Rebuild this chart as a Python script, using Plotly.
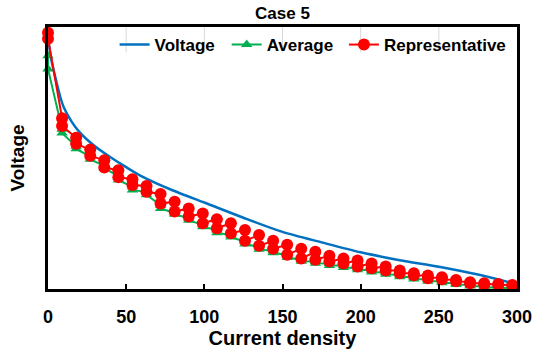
import plotly.graph_objects as go

# Current density grid for the measured series
x_meas = [0, 9, 18, 27, 36, 45, 54, 63, 72, 81, 90, 99, 108, 117, 126, 135, 144,
          153, 162, 171, 180, 189, 198, 207, 216, 225, 234, 243, 252, 261, 270,
          279, 288, 297]

rep_upper = [0.978, 0.652, 0.577, 0.532, 0.491, 0.453, 0.419, 0.393, 0.363, 0.333,
             0.307, 0.288, 0.266, 0.251, 0.225, 0.206, 0.184, 0.169, 0.154, 0.142,
             0.127, 0.116, 0.109, 0.097, 0.086, 0.071, 0.060, 0.052, 0.045, 0.034,
             0.026, 0.022, 0.019, 0.015]
rep_lower = [0.955, 0.622, 0.554, 0.509, 0.464, 0.427, 0.397, 0.371, 0.326, 0.296,
             0.277, 0.251, 0.232, 0.213, 0.184, 0.165, 0.154, 0.131, 0.116, 0.112,
             0.105, 0.097, 0.086, 0.079, 0.071, 0.060, 0.052, 0.041, 0.037, 0.030,
             0.022, 0.018, 0.015, 0.012]

avg_upper = [0.89, 0.61, 0.545, 0.505, 0.47, 0.43, 0.39, 0.37, 0.32, 0.29,
             0.27, 0.245, 0.225, 0.205, 0.18, 0.16, 0.145, 0.13, 0.112, 0.105,
             0.097, 0.09, 0.08, 0.072, 0.063, 0.053, 0.045, 0.036, 0.03, 0.022,
             0.015, 0.01, 0.007, 0.005]
avg_lower = [0.84, 0.595, 0.535, 0.495, 0.462, 0.416, 0.378, 0.36, 0.307, 0.285,
             0.262, 0.238, 0.215, 0.198, 0.172, 0.152, 0.138, 0.12, 0.106, 0.098,
             0.09, 0.082, 0.073, 0.065, 0.056, 0.047, 0.038, 0.03, 0.024, 0.017,
             0.011, 0.006, 0.003, 0.0]

# Smooth "Voltage" curve
x_volt = [0, 2, 5, 8, 10, 15, 20, 30, 40, 50, 60, 80, 100, 125, 150, 175, 200,
          225, 250, 275, 300]
volt = [0.96, 0.88, 0.80, 0.73, 0.695, 0.64, 0.60, 0.545, 0.503, 0.465, 0.43,
        0.376, 0.33, 0.272, 0.218, 0.178, 0.14, 0.11, 0.085, 0.055, 0.018]

x_ticks = [0, 50, 100, 150, 200, 250, 300]


def interleave(xs, a, b):
    xo, yo = [], []
    for xi, ai, bi in zip(xs, a, b):
        xo += [xi, xi]
        yo += [ai, bi]
    return xo, yo


FONT = "Arial, Liberation Sans, sans-serif"

xa, ya = interleave(x_meas, avg_upper, avg_lower)
xr, yr = interleave(x_meas, rep_upper, rep_lower)

fig = go.Figure()
fig.add_trace(go.Scatter(x=x_volt, y=volt, mode="lines", name="Voltage",
                         line=dict(color="#0070C0", width=2.5, shape="spline",
                                   smoothing=0.8),
                         cliponaxis=False, legend="legend"))
fig.add_trace(go.Scatter(x=xa, y=ya, mode="lines+markers", name="Average",
                         line=dict(color="#00B050", width=2),
                         marker=dict(symbol="triangle-up", size=10, color="#00B050"),
                         cliponaxis=False, legend="legend2"))
fig.add_trace(go.Scatter(x=xr, y=yr, mode="lines+markers", name="Representative",
                         line=dict(color="#FF0000", width=2),
                         marker=dict(symbol="circle", size=12, color="#FF0000"),
                         cliponaxis=False, legend="legend3"))

# faint gridlines visible only behind the legend
for t in x_ticks[1:-1]:
    fig.add_shape(type="line", xref="x", yref="paper", x0=t, x1=t, y0=0.903, y1=1,
                  line=dict(color="#d9d9d9", width=1), layer="below")

leg_common = dict(orientation="h", xanchor="left", y=1.0, yanchor="top",
                  font=dict(size=17, family=FONT, weight="bold"),
                  bgcolor="rgba(0,0,0,0)", itemwidth=30)

fig.update_layout(
    width=544, height=355,
    margin=dict(l=48, r=24, t=27, b=61),
    paper_bgcolor="white", plot_bgcolor="white",
    font=dict(family=FONT, color="black"),
    title=dict(text="<b>Case 5</b>", x=0.5, xref="paper", xanchor="center",
               y=0.962, yanchor="middle", font=dict(size=17, family=FONT)),
    showlegend=True,
    legend=dict(x=0.142, **leg_common),
    legend2=dict(x=0.381, **leg_common),
    legend3=dict(x=0.631, **leg_common),
    xaxis=dict(range=[0, 300], tickvals=x_ticks, ticks="inside", ticklen=5,
               tickwidth=2, tickcolor="black", showline=True, linecolor="black",
               linewidth=2.5, mirror=True, showgrid=False, zeroline=False,
               ticklabelstandoff=10,
               tickfont=dict(size=18, family=FONT, weight="bold"),
               title=dict(text="<b>Current density</b>", font=dict(size=20, family=FONT),
                          standoff=2)),
    yaxis=dict(range=[0, 1], showticklabels=False, ticks="", showline=True,
               linecolor="black", linewidth=2.5, mirror=True, showgrid=False,
               zeroline=False,
               title=dict(text="<b>Voltage</b>", font=dict(size=19, family=FONT),
                          standoff=16)),
)

fig.write_html("out.html")
